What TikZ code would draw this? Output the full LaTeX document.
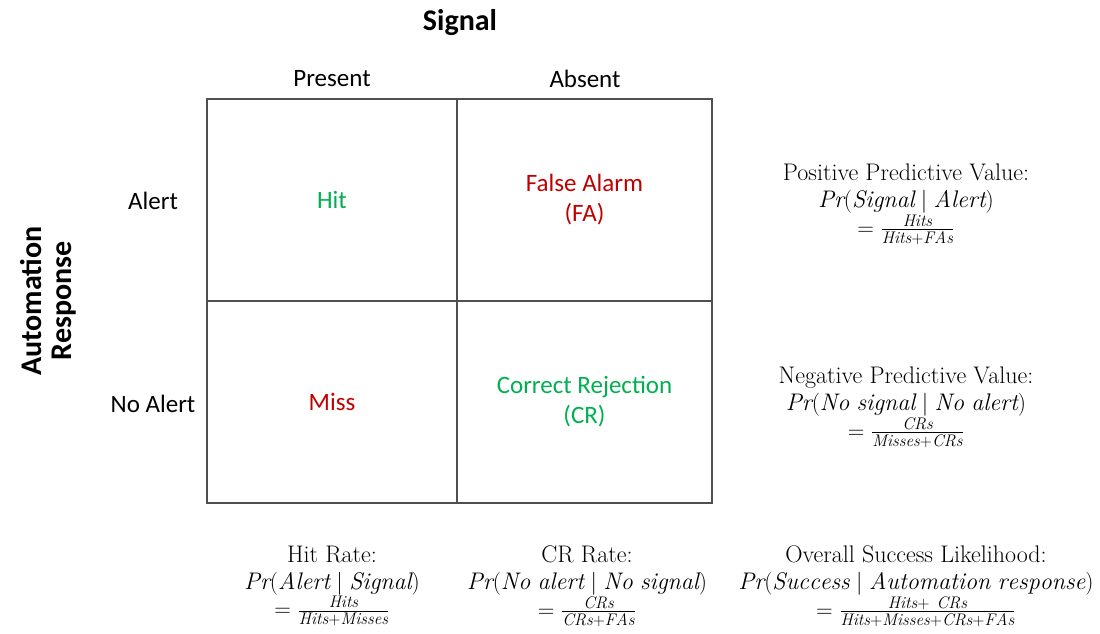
\documentclass[tikz,border=0pt]{standalone}
\usepackage{amsmath,amssymb}
\usepackage{fontspec}
\usepackage{tikz}
\usetikzlibrary{positioning}
\newfontfamily\calibri{Carlito}
\definecolor{hitgreen}{RGB}{0,176,80}
\definecolor{missred}{RGB}{192,0,0}
\definecolor{gridgray}{RGB}{80,80,80}

\begin{document}
\begin{tikzpicture}[
  x=0.75pt, y=-0.75pt,
  cell/.style={rectangle, draw=gridgray, line width=0.8pt, minimum height=151.5pt,
               outer sep=0pt, inner sep=0pt, align=center,
               font=\calibri\fontsize{18.75}{22.5}\selectfont},
  lbl/.style={font=\calibri\fontsize{18.75}{22}\selectfont},
  head/.style={font=\calibri\bfseries\fontsize{22.5}{22.5}\selectfont, align=center},
  rate/.style={align=center, font=\fontsize{18}{20.5}\selectfont}
]
  \useasboundingbox (0,0) rectangle (1100,633);

  % Confusion matrix cells
  \node[cell, minimum width=187.5pt, text=hitgreen] (hit) at (332,200) {Hit};
  \node[cell, minimum width=191.25pt, right=0pt of hit, text=missred] (fa) {False Alarm\\(FA)};
  \node[cell, minimum width=187.5pt, below=0pt of hit, text=missred] (miss) {Miss};
  \node[cell, minimum width=191.25pt, right=0pt of miss, text=hitgreen] (cr) {Correct Rejection\\(CR)};

  % Axis headings
  \node[head] (signal) at (460,23) {Signal};
  \node[lbl] (present) at (332,79) {Present};
  \node[lbl] (absent) at (585,79) {Absent};
  \node[lbl] (alert) at (153,201) {Alert};
  \node[lbl] (noalert) at (153,404) {No Alert};
  \node[head, rotate=90] (response) at (48,301) {Automation\\Response};

  % Predictive values (right)
  \node[rate] (ppv) at (906,204)
    {Positive Predictive Value:\\
     $\mathit{Pr}(\mathit{Signal}\mid\mathit{Alert})$\\
     $=\frac{\mathit{Hits}}{\mathit{Hits}+\mathit{FAs}}$};
  \node[rate] (npv) at (906,407)
    {Negative Predictive Value:\\
     $\mathit{Pr}(\mathit{No\ signal}\mid\mathit{No\ alert})$\\
     $=\frac{\mathit{CRs}}{\mathit{Misses}+\mathit{CRs}}$};

  % Rates (bottom)
  \node[rate] (hitrate) at (332,586)
    {Hit Rate:\\
     $\mathit{Pr}(\mathit{Alert}\mid\mathit{Signal})$\\
     $=\frac{\mathit{Hits}}{\mathit{Hits}+\mathit{Misses}}$};
  \node[rate] (crrate) at (587,586)
    {CR Rate:\\
     $\mathit{Pr}(\mathit{No\ alert}\mid\mathit{No\ signal})$\\
     $=\frac{\mathit{CRs}}{\mathit{CRs}+\mathit{FAs}}$};
  \node[rate] (overall) at (916,586)
    {Overall Success Likelihood:\\
     $\mathit{Pr}(\mathit{Success}\mid\mathit{Automation\ response})$\\
     $=\frac{\mathit{Hits}+\ \mathit{CRs}}{\mathit{Hits}+\mathit{Misses}+\mathit{CRs}+\mathit{FAs}}$};
\end{tikzpicture}
\end{document}
